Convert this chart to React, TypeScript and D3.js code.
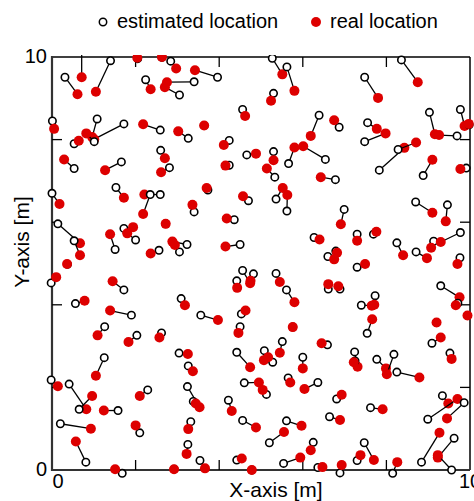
import * as d3 from "d3";

// estimated positions (open circles)
const estX = [
  0.71, 1.4, 0.31, 2.05, 2.63, 2.84, 2.24, 3.4, 3.05, 0.01,
  1.08, 1.72, 1.01, 0.53, 2.59, 3.26, 2.6, 0.53, 1.66, 2.81,
  1.53, 0.0, 2.59, 2.35, 3.96, 5.27, 5.62, 5.3, 4.56, 3.64,
  6.39, 4.24, 4.66, 5.3, 5.66, 6.54, 4.24, 5.33, 6.78, 3.73,
  4.7, 5.36, 5.62, 8.36, 7.48, 6.87, 7.55, 7.48, 9.03, 9.69,
  9.77, 9.98, 7.83, 8.28, 8.88, 9.91, -0.02, 0.14, 0.53, 0.37,
  1.51, 1.72, 2.0, 2.72, 2.56, 3.23, 3.05, 1.72, 0.56, 3.09,
  1.9, 1.26, 2.03, 2.62, 3.4, 4.36, 4.5, 6.27, 6.6, 6.79,
  4.56, 4.82, 4.42, 5.36, 5.61, 6.61, 6.89, 3.56, 4.53, 4.5,
  5.76, 6.99, 8.7, 9.46, 7.3, 7.69, 8.25, 9.13, 9.77, 8.71,
  9.76, 7.3, 7.73, 7.4, 9.3, 9.71, 9.94, 7.54, 9.2, 9.09,
  3.04, 3.26, 1.25, -0.02, 0.41, 0.65, 1.58, 2.29, 0.2, 2.1,
  0.81, 1.68, 2.92, 3.24, 3.38, 3.32, 3.25, 6.59, 5.51, 5.08,
  5.28, 4.42, 6.0, 4.6, 5.13, 5.65, 6.36, 4.22, 4.56, 5.61,
  6.64, 5.2, 6.25, 3.54, 4.42, 4.78, 5.54, 6.36, 9.52, 7.24,
  7.25, 7.77, 8.18, 8.25, 6.81, 7.62, 9.34, 8.99, 9.86, 7.47,
  7.3, 8.84, 9.62, 9.56, 8.15, 6.89,
];
const estY = [
  10.22, 9.91, 9.51, 9.96, 9.99, 9.9, 9.45, 9.4, 9.08, 8.45,
  8.5, 8.38, 7.95, 7.9, 8.23, 8.03, 7.74, 7.3, 7.46, 7.32,
  6.84, 6.7, 6.67, 6.67, 9.51, 9.97, 9.76, 9.12, 8.73, 8.34,
  8.59, 7.98, 7.63, 7.71, 7.42, 7.52, 7.38, 7.09, 7.03, 6.78,
  6.52, 6.56, 6.27, 9.93, 9.51, 8.3, 8.41, 7.95, 8.66, 8.09,
  8.73, 8.36, 7.26, 7.76, 7.13, 7.31, 4.53, 5.96, 5.55, 4.98,
  5.34, 5.85, 5.57, 5.96, 5.32, 5.46, 5.28, 4.36, 4.03, 4.15,
  3.75, 3.47, 3.26, 3.32, 6.25, 6.06, 5.46, 5.63, 5.17, 5.3,
  4.83, 4.75, 4.58, 4.76, 4.36, 4.38, 4.38, 3.75, 3.78, 3.47,
  3.46, 6.31, 6.49, 6.42, 5.71, 5.71, 5.5, 5.54, 5.75, 5.28,
  5.14, 4.91, 4.22, 3.99, 4.46, 4.04, 3.74, 3.31, 3.57, 3.07,
  2.83, 2.52, 2.72, 2.18, 2.08, 1.47, 1.44, 1.94, 1.12, 0.9,
  0.19, -0.08, 0.02, 2.02, 1.66, 1.17, 0.62, 3.03, 3.11, 2.89,
  2.61, 2.85, 2.73, 2.11, 1.83, 2.23, 2.12, 1.69, 1.2, 1.19,
  1.29, 0.66, 0.67, 0.23, 0.24, 0.0, 0.16, 0.06, 2.83, 2.86,
  2.64, 2.68, 2.8, 2.37, 1.72, 1.51, 1.8, 1.23, 1.63, 0.66,
  0.23, 0.19, 0.77, 0.0, -0.08, -0.07,
];

// real positions (red dots)
const realX = [
  0.71, 1.05, 0.61, 2.04, 2.63, 2.97, 2.36, 2.75, 2.7, 0.05,
  0.96, 1.01, 0.82, 0.64, 2.18, 3.02, 2.7, 0.29, 1.27, 2.61,
  1.72, 0.18, 2.21, 2.18, 3.42, 5.51, 5.8, 5.24, 4.62, 3.64,
  6.19, 4.11, 4.88, 5.3, 5.8, 6.01, 4.15, 5.14, 6.43, 3.7,
  4.57, 5.52, 5.63, 8.75, 7.8, 6.75, 7.77, 7.98, 9.16, 9.26,
  9.87, 9.97, 8.43, 8.71, 9.1, 9.77, 0.1, 0.67, 0.67, 0.36,
  1.39, 1.94, 1.8, 2.72, 2.36, 2.88, 2.94, 1.45, 0.78, 3.18,
  1.39, 1.09, 1.83, 2.57, 3.36, 4.18, 4.15, 6.4, 6.75, 6.82,
  4.74, 4.75, 4.43, 5.45, 5.8, 6.61, 6.85, 3.97, 4.63, 4.46,
  5.76, 6.91, 9.1, 9.42, 7.3, 7.76, 8.4, 9.07, 9.3, 8.97,
  9.7, 7.49, 7.71, 7.65, 9.75, 9.66, 9.94, 7.66, 9.2, 9.3,
  3.25, 3.37, 1.05, 0.14, 0.82, 0.96, 1.24, 2.1, 0.93, 2.0,
  0.57, 1.51, 2.92, 3.53, 3.44, 3.26, 3.22, 6.45, 5.45, 5.07,
  5.17, 4.74, 6.0, 4.95, 5.04, 5.7, 6.04, 4.3, 4.88, 5.97,
  6.89, 5.55, 6.19, 3.66, 4.54, 4.78, 5.94, 6.47, 9.56, 7.31,
  7.22, 7.99, 8.01, 8.79, 6.93, 7.91, 9.48, 9.7, 9.45, 7.7,
  7.38, 9.27, 9.23, 9.23, 8.26, 6.93,
];
const realY = [
  9.51, 9.16, 9.1, 9.98, 10.0, 9.72, 9.22, 9.39, 9.27, 8.26,
  8.06, 8.01, 8.15, 7.97, 8.37, 8.2, 7.55, 7.52, 7.26, 7.21,
  6.59, 6.44, 6.67, 6.2, 9.68, 9.58, 9.18, 8.94, 8.57, 8.34,
  8.09, 7.87, 7.66, 7.5, 7.81, 7.84, 7.37, 7.3, 7.09, 6.83,
  6.63, 6.83, 6.66, 9.39, 9.01, 8.47, 8.26, 8.15, 8.13, 8.11,
  8.33, 8.38, 7.8, 7.93, 7.51, 7.29, 4.67, 5.49, 5.2, 4.99,
  5.71, 5.88, 5.73, 5.96, 5.24, 5.53, 5.45, 4.57, 4.1, 3.99,
  3.86, 3.26, 3.1, 3.21, 6.42, 6.09, 5.41, 5.58, 5.1, 5.26,
  4.52, 4.58, 4.41, 4.55, 4.06, 4.5, 4.45, 3.63, 3.86, 3.32,
  3.46, 5.95, 6.23, 6.02, 5.55, 5.77, 5.2, 5.38, 5.52, 5.13,
  4.99, 4.99, 4.0, 3.98, 4.18, 3.99, 3.74, 3.65, 3.57, 3.21,
  2.81, 2.39, 2.28, 2.03, 1.47, 1.79, 1.44, 1.79, 1.0, 1.08,
  0.69, 0.02, 0.02, 1.52, 1.61, 0.99, 0.39, 3.07, 2.84, 2.66,
  2.73, 2.49, 2.46, 2.12, 1.94, 2.12, 1.96, 1.43, 1.03, 1.07,
  1.21, 0.92, 0.48, 0.04, 0.28, 0.0, 0.3, 0.07, 2.69, 2.5,
  2.61, 2.46, 2.32, 2.24, 1.82, 1.47, 1.61, 1.72, 1.25, 0.24,
  0.36, 0.9, 0.3, 0.36, 0.19, 0.12,
];

const innerTicks = [2, 4, 6, 8];
const tickLabels = [0, 10];

const W = 474;
const H = 501;
const FONT = "'Liberation Sans', Arial, sans-serif";
const RED = "#dd0000";

export default function App() {
  const margin = { left: 52, right: 470, top: 57, bottom: 470 };
  const x = d3.scaleLinear().domain([0, 10]).range([margin.left, margin.right]);
  const y = d3.scaleLinear().domain([0, 10]).range([margin.bottom, margin.top]);
  const tl = 10;

  const pairs = d3.range(estX.length).map((i) => ({
    ex: x(estX[i]),
    ey: y(estY[i]),
    rx: x(realX[i]),
    ry: y(realY[i]),
  }));

  return (
    <svg
      width={W}
      height={H}
      style={{ position: "absolute", left: 0, top: 0, background: "#fff" }}
      fontFamily={FONT}
    >
      <defs>
        <clipPath id="plot-clip">
          <rect x={0} y={55} width={W} height={H - 55} />
        </clipPath>
      </defs>

      {/* legend */}
      <circle cx={103} cy={22} r={3.7} fill="#fff" stroke="#000" strokeWidth={1.5} />
      <text x={117} y={28} fontSize={20}>estimated location</text>
      <circle cx={316} cy={22} r={5} fill={RED} />
      <text x={330} y={28} fontSize={20}>real location</text>

      {/* frame */}
      <line x1={margin.left} x2={margin.right} y1={margin.top} y2={margin.top} stroke="#000" strokeWidth={1.5} />
      <line x1={margin.right} x2={margin.right} y1={margin.top} y2={margin.bottom} stroke="#000" strokeWidth={1.5} />
      <line x1={margin.left} x2={margin.left} y1={margin.top - 1} y2={margin.bottom + 1} stroke="#333" strokeWidth={2.2} />
      <line x1={margin.left - 1} x2={margin.right} y1={margin.bottom} y2={margin.bottom} stroke="#333" strokeWidth={2.2} />

      {innerTicks.map((t) => (
        <g key={"t" + t} stroke="#000" strokeWidth={1.3}>
          <line x1={x(t)} x2={x(t)} y1={margin.bottom} y2={margin.bottom - tl} />
          <line x1={x(t)} x2={x(t)} y1={margin.top} y2={margin.top + tl} />
          <line x1={margin.left} x2={margin.left + tl} y1={y(t)} y2={y(t)} />
          <line x1={margin.right} x2={margin.right - tl} y1={y(t)} y2={y(t)} />
        </g>
      ))}

      {tickLabels.map((t) => (
        <g key={"l" + t} fontSize={20} fill="#000">
          <text x={x(t) + (t === 0 ? 6 : 0)} y={488} textAnchor="middle">{t}</text>
          <text x={47} y={y(t) + 6} textAnchor="end">{t}</text>
        </g>
      ))}

      <text x={276} y={497} fontSize={21} textAnchor="middle">X-axis [m]</text>
      <text transform={`translate(29,242) rotate(-90)`} fontSize={21} textAnchor="middle">Y-axis [m]</text>

      {/* pairs */}
      <g clipPath="url(#plot-clip)">
        {pairs.map((p, i) => (
          <g key={i}>
            <line x1={p.ex} y1={p.ey} x2={p.rx} y2={p.ry} stroke="#000" strokeWidth={1.3} />
            <circle cx={p.ex} cy={p.ey} r={3.7} fill="#fff" stroke="#000" strokeWidth={1.6} />
            <circle cx={p.rx} cy={p.ry} r={5} fill={RED} />
          </g>
        ))}
      </g>
    </svg>
  );
}
